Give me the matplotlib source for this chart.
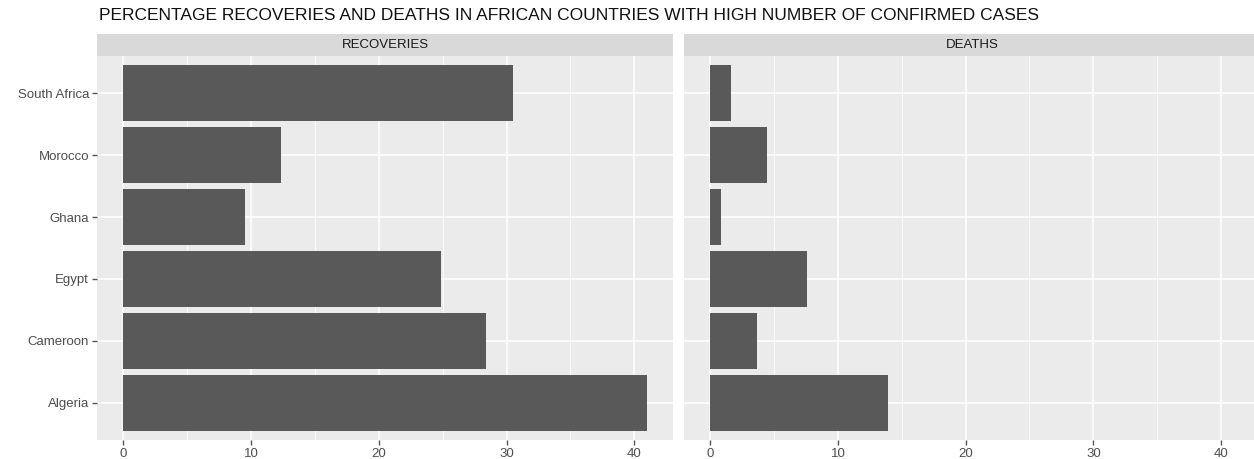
import matplotlib.pyplot as plt
import numpy as np

plt.rcParams["font.family"] = ["Liberation Sans", "DejaVu Sans"]

# percentages per country (bottom to top)
countries = ["Algeria", "Cameroon", "Egypt", "Ghana", "Morocco", "South Africa"]
recoveries = [41.0, 28.4, 24.9, 9.5, 12.3, 30.5]
deaths = [13.9, 3.7, 7.6, 0.85, 4.45, 1.65]
facets = ["RECOVERIES", "DEATHS"]
xticks = [0, 10, 20, 30, 40]

W, H = 1254, 459
fig = plt.figure(figsize=(W / 100, H / 100), dpi=100)

# shared x scale with 5% expansion, discrete y with 0.6 expansion
xmax = max(max(recoveries), max(deaths))
xlim = (-0.05 * xmax, xmax * 1.05)
ylim = (-0.6, len(countries) - 0.4)

panel_w = 576
lefts = [97.3, 684]
top, bottom = 56, 440
strip_h = 22

for i, (name, vals) in enumerate(zip(facets, [recoveries, deaths])):
    ax = fig.add_axes([lefts[i] / W, 1 - bottom / H, panel_w / W, (bottom - top) / H])
    ax.set_facecolor("#ebebeb")
    ax.barh(np.arange(len(countries)), vals, height=0.9, color="#595959", zorder=3)
    ax.set_xlim(xlim)
    ax.set_ylim(ylim)
    ax.set_xticks(xticks)
    ax.set_xticks([5, 15, 25, 35], minor=True)
    ax.set_yticks(np.arange(len(countries)))
    ax.grid(which="major", color="white", linewidth=1.1, zorder=0)
    ax.grid(which="minor", axis="x", color="white", linewidth=0.55, zorder=0)
    ax.tick_params(which="minor", length=0)
    ax.tick_params(which="major", length=3.5, width=1, color="#555555",
                   labelcolor="#4d4d4d", labelsize=9.5, pad=2.5)
    if i == 0:
        ax.set_yticklabels(countries)
    else:
        ax.set_yticklabels([])
        ax.tick_params(axis="y", length=0)
    for s in ax.spines.values():
        s.set_visible(False)

    # facet strip
    sax = fig.add_axes([lefts[i] / W, 1 - top / H, panel_w / W, strip_h / H])
    sax.set_facecolor("#d9d9d9")
    sax.set_xticks([])
    sax.set_yticks([])
    for s in sax.spines.values():
        s.set_visible(False)
    sax.text(0.5, 0.5, name, ha="center", va="center", fontsize=9.5,
             color="#1a1a1a", transform=sax.transAxes)

fig.text(99 / W, 1 - 16 / H,
         "PERCENTAGE RECOVERIES AND DEATHS IN AFRICAN COUNTRIES WITH HIGH NUMBER OF CONFIRMED CASES",
         ha="left", va="center", fontsize=12.5, color="#111111")

fig.savefig("out.png", dpi=100, facecolor="white")
